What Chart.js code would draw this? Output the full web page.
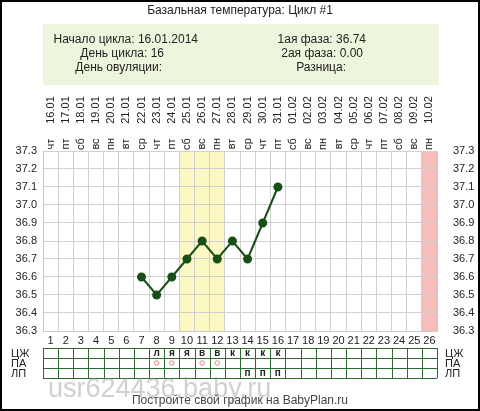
<!DOCTYPE html>
<html><head><meta charset="utf-8">
<script src="https://cdn.jsdelivr.net/npm/chart.js@4"></script>
<style>body{margin:0;background:#fff}#w{width:480px;height:411px;position:relative}</style>
</head><body><div id="w"><canvas id="c"></canvas></div>
<script>
const days = Array.from({length:26},(_,i)=>String(i+1));
const dates = ["16.01","17.01","18.01","19.01","20.01","21.01","22.01","23.01","24.01","25.01","26.01","27.01","28.01","29.01","30.01","31.01","01.02","02.02","03.02","04.02","05.02","06.02","07.02","08.02","09.02","10.02"];
const weekdays = ["чт","пт","сб","вс","пн","вт","ср","чт","пт","сб","вс","пн","вт","ср","чт","пт","сб","вс","пн","вт","ср","чт","пт","сб","вс","пн"];
const temps = [null,null,null,null,null,null,36.6,36.5,36.6,36.7,36.8,36.7,36.8,36.7,36.9,37.1,null,null,null,null,null,null,null,null,null,null];
const rowCZ = ["","","","","","","","л","я","я","в","в","к","к","к","к","","","","","","","","","",""];
const rowPA = ["","","","","","","","o","o","","o","o","","","","","","","","","","","","","",""];
const rowLP = ["","","","","","","","","","","","","","п","п","п","","","","","","","","","",""];
const yellowDays = [10,11,12];
const pinkDays = [26];
const rowLabels = ["ЦЖ","ПА","ЛП"];
const F = "Arial, 'Liberation Sans', sans-serif";

const deco = {
  id:'deco',
  beforeDraw(ch){
    const c=ch.ctx, x=ch.scales.x, a=ch.chartArea, w=(x.getPixelForValue(1)-x.getPixelForValue(0));
    c.save();
    c.fillStyle='#fff';c.fillRect(0,0,480,411);
    const band=(d,col)=>{c.fillStyle=col;c.fillRect(x.getPixelForValue(d-1)-w/2,a.top,w,a.bottom-a.top);};
    yellowDays.forEach(d=>band(d,'#fbf8c4'));
    pinkDays.forEach(d=>band(d,'#f7bcbc'));
    c.restore();
  },
  afterDraw(ch){
    const c=ch.ctx, x=ch.scales.x, a=ch.chartArea, w=(x.getPixelForValue(1)-x.getPixelForValue(0));
    c.save();
    c.strokeStyle='#000';c.lineWidth=2;c.strokeRect(1,1,478,409);
    c.fillStyle='#eef5dd';c.fillRect(43,24,396,61);
    c.fillStyle='#222';c.font='12px '+F;c.textBaseline='middle';
    c.textAlign='center';c.fillText('Базальная температура: Цикл #1',240,11);
    c.textAlign='right';
    c.fillText('Начало цикла: 16.01.2014',198,40);
    c.fillText('День цикла: 16',164,54);
    c.fillText('День овуляции:',162,68);
    c.fillText('1ая фаза: 36.74',366,40);
    c.fillText('2ая фаза: 0.00',363,54);
    c.fillText('Разница:',346,68);
    c.font='11px '+F;
    for(let i=0;i<26;i++){
      const px=x.getPixelForValue(i);
      c.save();c.translate(px,0);c.rotate(-Math.PI/2);
      c.textAlign='center';c.fillText(dates[i],-110,0);
      c.fillText(weekdays[i],-144,0);
      c.restore();
    }
    // table
    const t0=348,rh=10,L=a.left,R=a.right;
    c.strokeStyle='#2f6b2f';c.lineWidth=1;
    for(let r=0;r<=3;r++){c.beginPath();c.moveTo(L,t0+r*rh+.5);c.lineTo(R,t0+r*rh+.5);c.stroke();}
    for(let i=0;i<=26;i++){const px=Math.round(L+i*w)+.5;c.beginPath();c.moveTo(px,t0);c.lineTo(px,t0+3*rh);c.stroke();}
    c.font='11px '+F;c.fillStyle='#222';
    rowLabels.forEach((s,r)=>{c.textAlign='left';c.fillText(s,11,t0+r*rh+6);c.fillText(s,445,t0+r*rh+6);});
    c.font='bold 10px '+F;c.textAlign='center';
    for(let i=0;i<26;i++){
      const px=x.getPixelForValue(i);
      if(rowCZ[i])c.fillText(rowCZ[i],px,t0+5.5);
      if(rowLP[i])c.fillText(rowLP[i],px,t0+2*rh+5.5);
      if(rowPA[i]){c.strokeStyle='#d88';c.beginPath();c.arc(px,t0+rh+5,2.2,0,7);c.stroke();}
    }
    c.font='27px '+F;c.fillStyle='rgba(150,150,150,0.45)';c.textAlign='left';
    c.fillText('usr624436.baby.ru',48,390);
    c.font='12px '+F;c.fillStyle='#444';c.textAlign='center';
    c.fillText('Постройте свой график на BabyPlan.ru',240,401);
    c.restore();
  }
};
const yTick={min:36.3,max:37.3,ticks:{stepSize:0.05,color:'#222',font:{size:11,family:F},
  callback:v=>{const r=Math.round(v*100);return r%10===0?(r/100).toFixed(1):'';}},
  grid:{color:'#d0d0d0',drawTicks:false},border:{color:'#c8c8c8'}};
new Chart(document.getElementById('c'),{
  type:'line',
  data:{labels:days,datasets:[{data:temps,borderColor:'#174f17',backgroundColor:'#174f17',borderWidth:2,pointRadius:3.5,spanGaps:false,tension:0}]},
  options:{responsive:true,maintainAspectRatio:false,animation:false,
    layout:{padding:{top:151,bottom:66,left:0,right:0}},
    plugins:{legend:{display:false},tooltip:{enabled:false}},
    scales:{
      x:{offset:true,grid:{offset:true,color:'#d0d0d0',drawTicks:false},border:{color:'#c8c8c8'},
        ticks:{color:'#222',font:{size:11,family:F},maxRotation:0,autoSkip:false,padding:3},
        afterFit:s=>{s.height=14;}},
      y:{...yTick,position:'left',ticks:{...yTick.ticks,padding:6},afterFit:s=>{s.width=43;}},
      y2:{...yTick,position:'right',grid:{display:false},ticks:{...yTick.ticks,padding:8},afterFit:s=>{s.width=43;}}
    }},
  plugins:[deco]
});
</script></body></html>
